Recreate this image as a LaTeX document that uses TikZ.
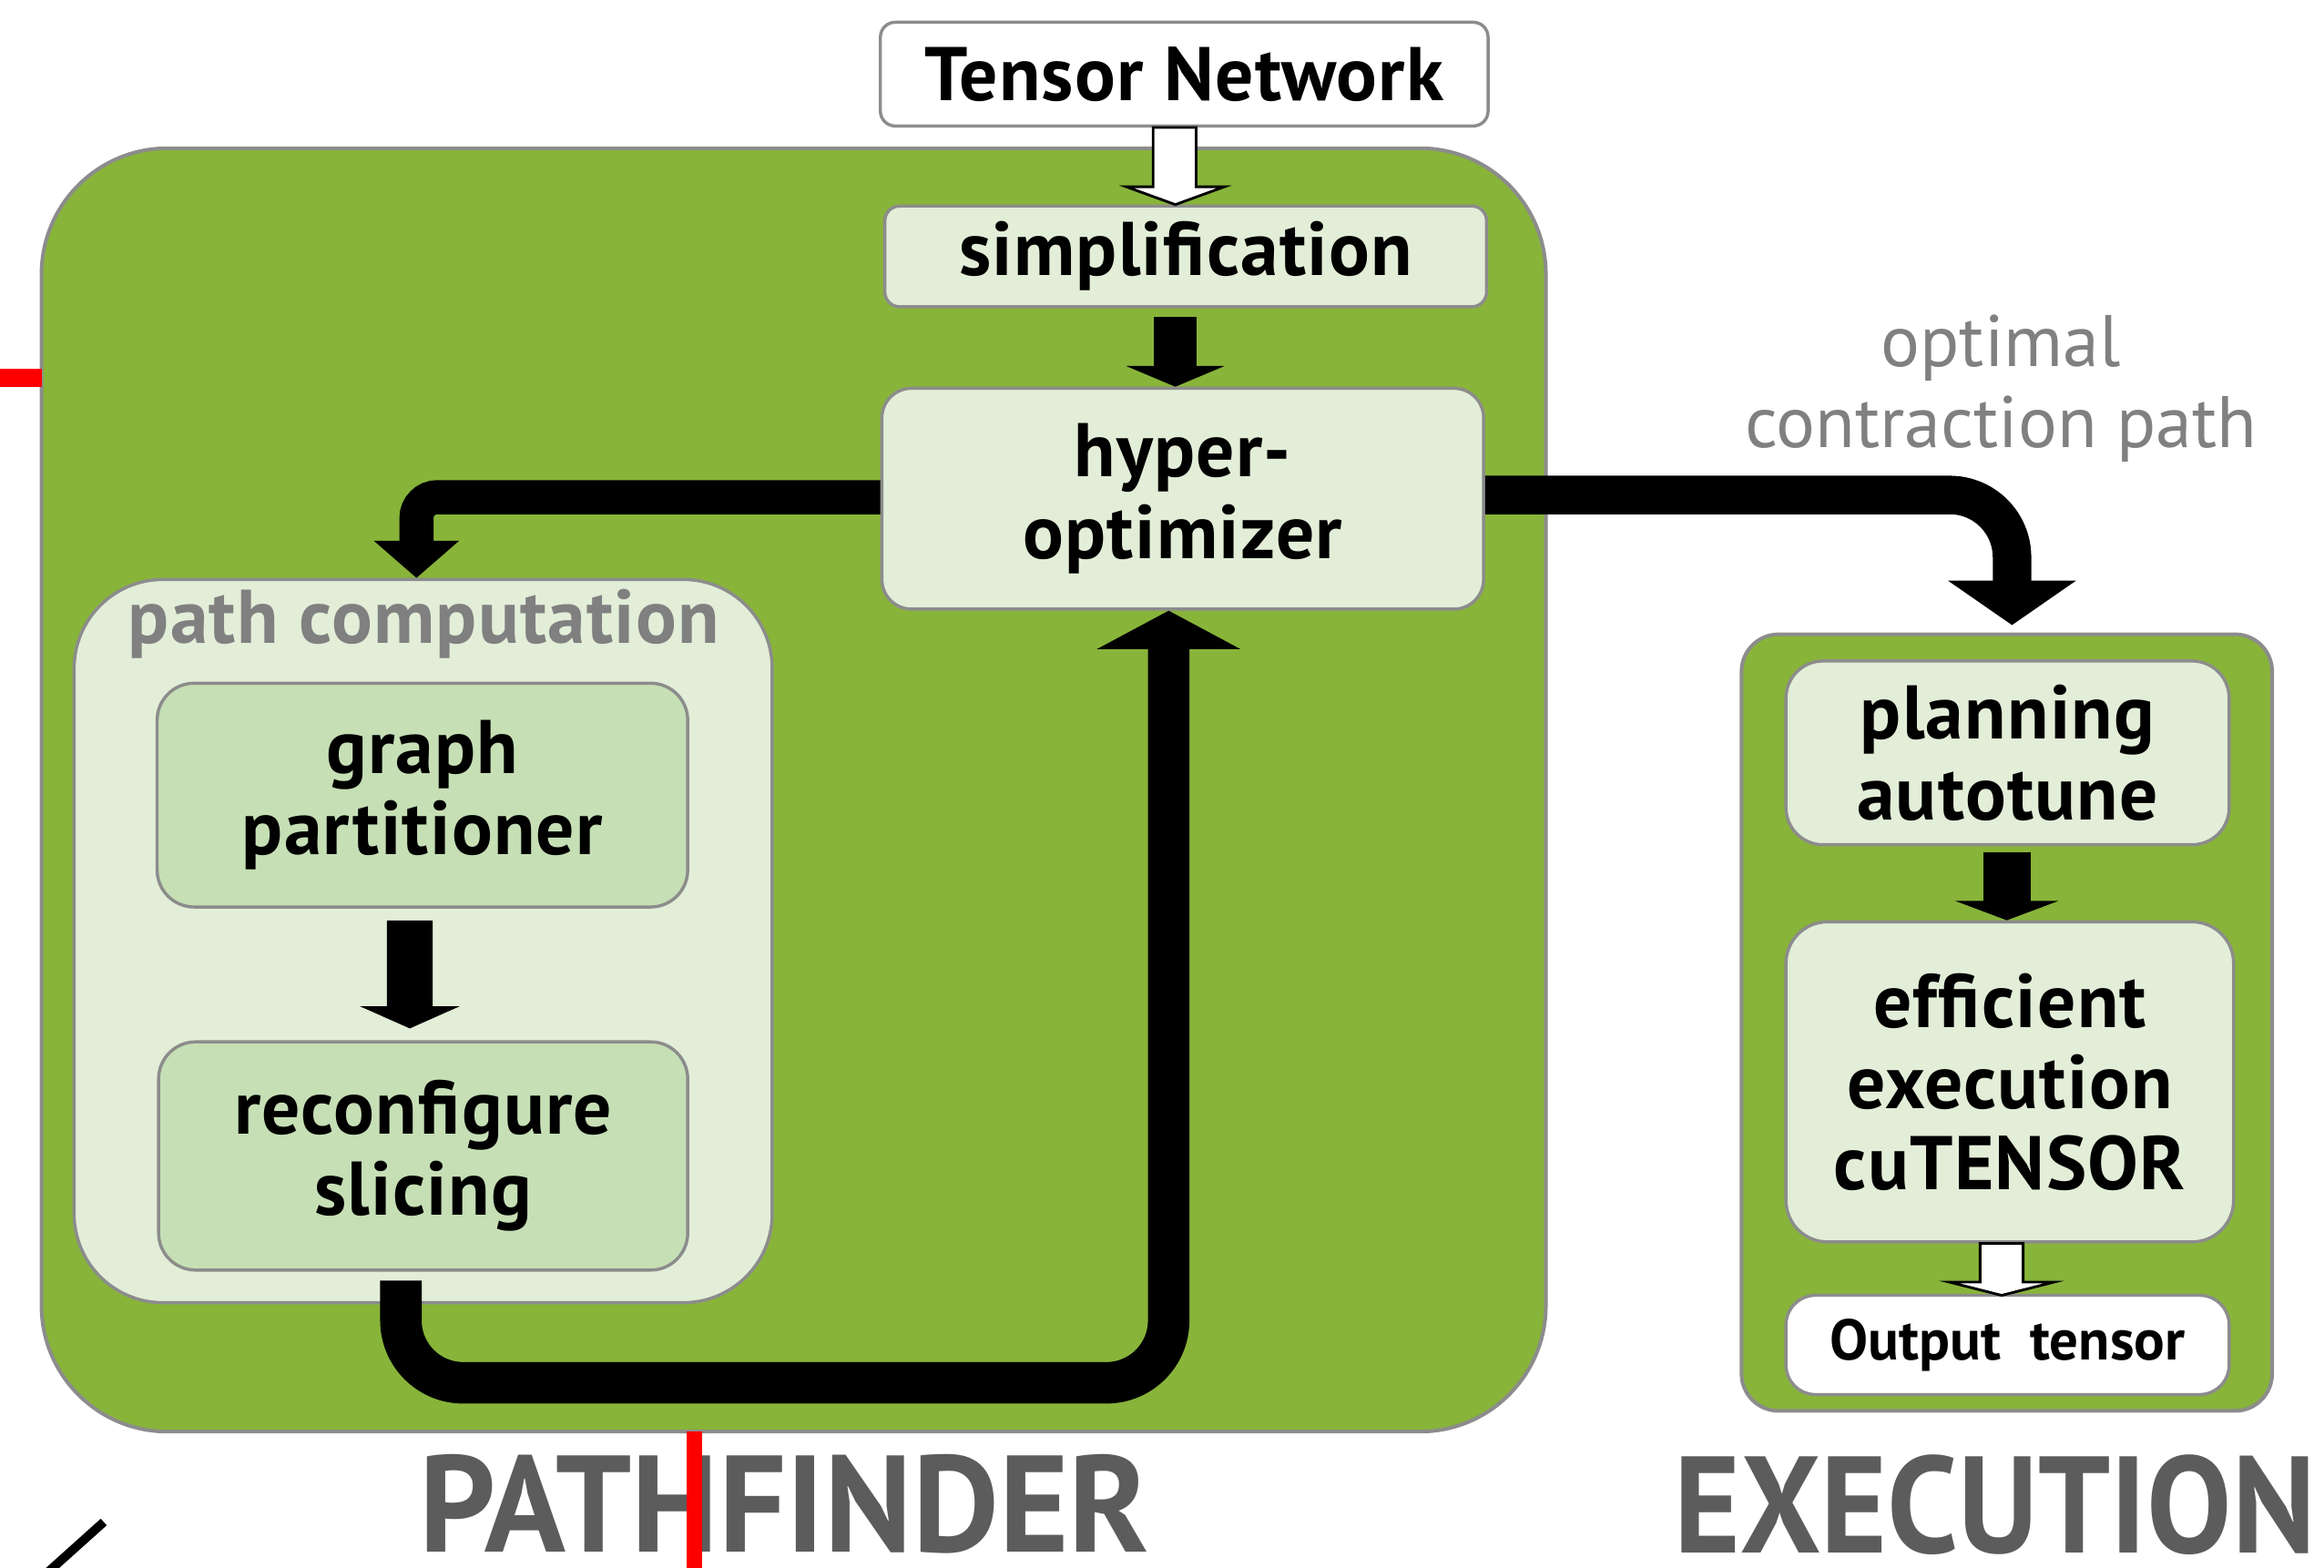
\documentclass[tikz,border=0pt]{standalone}
\usepackage{graphicx}
\usepackage{fontspec}
\setmainfont{PT Sans}
\newfontfamily\boxfont{PT Sans}[LetterSpace=1.5]
\usetikzlibrary{arrows.meta,calc}

\definecolor{nvgreen}{RGB}{136,180,58}
\definecolor{paleg}{RGB}{226,238,216}
\definecolor{midg}{RGB}{198,223,181}
\definecolor{edgegray}{RGB}{140,140,140}
\definecolor{labelgray}{RGB}{128,128,128}
\definecolor{titlegray}{RGB}{92,92,92}

\tikzset{
  panel/.style={draw=edgegray, line width=0.7pt, fill=nvgreen, inner sep=0pt},
  box/.style={draw=edgegray, line width=0.6pt, inner sep=0pt, align=center,
              font=\boxfont\fontsize{14.6}{15.6}\selectfont\bfseries},
  fat/.style n args={3}{draw=black, line width=#1, -{Triangle[width=#2,length=#3]}},
  hollow/.style={draw=black, fill=white, line width=0.5pt, line join=miter},
  title/.style={inner sep=0pt, anchor=base, text=titlegray,
                font=\fontsize{26.4}{30}\selectfont\bfseries},
}

\begin{document}
\begin{tikzpicture}[x=0.1mm,y=-0.1mm]
\useasboundingbox (0,0) rectangle (1568,1058);

% the two green stages
\node[panel, minimum width=101.5mm, minimum height=86.6mm, rounded corners=8.5mm] (pf) at (535.5,533) {};
\node[panel, minimum width=35.8mm, minimum height=52.4mm, rounded corners=2.5mm] (ex) at (1354,690) {};

% input and pathfinder steps
\node[box, fill=white, minimum width=41mm, minimum height=7mm, rounded corners=1mm] (tn) at (799,50) {Tensor Network};
\node[box, fill=paleg, minimum width=40.6mm, minimum height=6.8mm, rounded corners=1mm] (simp) at (800,173) {simplification};
\node[box, fill=paleg, minimum width=40.6mm, minimum height=14.9mm, rounded corners=2mm] (hyper) at (798,336.5) {hyper-\\optimizer};

\node[box, fill=paleg, minimum width=47.1mm, minimum height=48.8mm, rounded corners=6mm] (pc) at (285.5,635) {};
\node[inner sep=0pt, anchor=base, text=labelgray, font=\boxfont\fontsize{14.6}{15.6}\selectfont\bfseries] (pclabel) at (286,434) {path computation};
\node[box, fill=midg, minimum width=35.8mm, minimum height=15.1mm, rounded corners=2.5mm] (gp) at (285,536.5) {graph\\partitioner};
\node[box, fill=midg, minimum width=35.7mm, minimum height=15.4mm, rounded corners=2.5mm] (rs) at (285.5,780) {reconfigure\\slicing};

% execution steps
\node[box, fill=paleg, minimum width=29.9mm, minimum height=12.4mm, rounded corners=2.5mm] (pa) at (1354.5,508) {planning\\autotune};
\node[box, fill=paleg, minimum width=30.2mm, minimum height=21.6mm, rounded corners=2.8mm] (ee) at (1356,730) {efficient\\execution\\cuTENSOR};
\node[box, fill=white, minimum width=29.9mm, minimum height=6.7mm, rounded corners=2mm,
      font=\fontsize{11}{13}\selectfont\bfseries] (ot) at (1354.5,907.5) {Output\ \ tensor};

\node[inner sep=0pt, align=center, text=labelgray, font=\fontsize{14}{15.6}\selectfont] (ocp) at (1350,262) {optimal\\contraction path};

% flow arrows
\draw[fat={2.9mm}{6.6mm}{1.4mm}] ($(simp.south)+(-7,6)$) -- ($(hyper.north)+(-5,0)$);
\draw[fat={2.3mm}{5.6mm}{2.5mm}, rounded corners=1.4mm] ($(hyper.west)+(0,-1)$) -| ($(pc.north)+(-4.5,0)$);
\draw[fat={2.6mm}{8.5mm}{3mm}, rounded corners=4.2mm] ($(hyper.east)+(0,-2.5)$) -| ($(ex.north)+(3.5,-5)$);
\draw[fat={3.1mm}{6.7mm}{1.5mm}] ($(gp.south)+(-8.5,8)$) -- ($(rs.north)+(-9,-8)$);
\draw[fat={2.8mm}{9.6mm}{2.6mm}, rounded corners=4.2mm] ($(rs.south)+(-15,6)$) -- ++(0,69) -| ($(hyper.south)+(-9.5,0)$);
\draw[fat={3.2mm}{6.9mm}{1.3mm}] ($(pa.south)+(-0.5,4)$) -- ($(ee.north)+(-2,0)$);

% hollow arrows for input and output
\draw[hollow] ($(tn.south)+(-21,0)$) -- ++(0,40) -- ++(-18,0) -- ++(33,12) -- ++(33,-12) -- ++(-19,0) -- ++(0,-40) -- cycle;
\draw[hollow] ($(ee.south)+(-20,0)$) -- ++(0,26) -- ++(-21,0) -- ++(35.5,9) -- ++(35.5,-9) -- ++(-21,0) -- ++(0,-26) -- cycle;

% stage titles
\node[title] (pftitle) at (529,1047) {\scalebox{0.972}[1]{PATHFINDER}};
\node[title] (extitle) at (1346,1048) {\scalebox{0.925}[1]{EXECUTION}};

% marks along the edges
\fill[red] (0,249) rectangle (28,261);
\fill[red] (463,966) rectangle (474,1058);
\draw[line width=0.6mm] (31,1062) -- (70,1027);
\end{tikzpicture}
\end{document}
